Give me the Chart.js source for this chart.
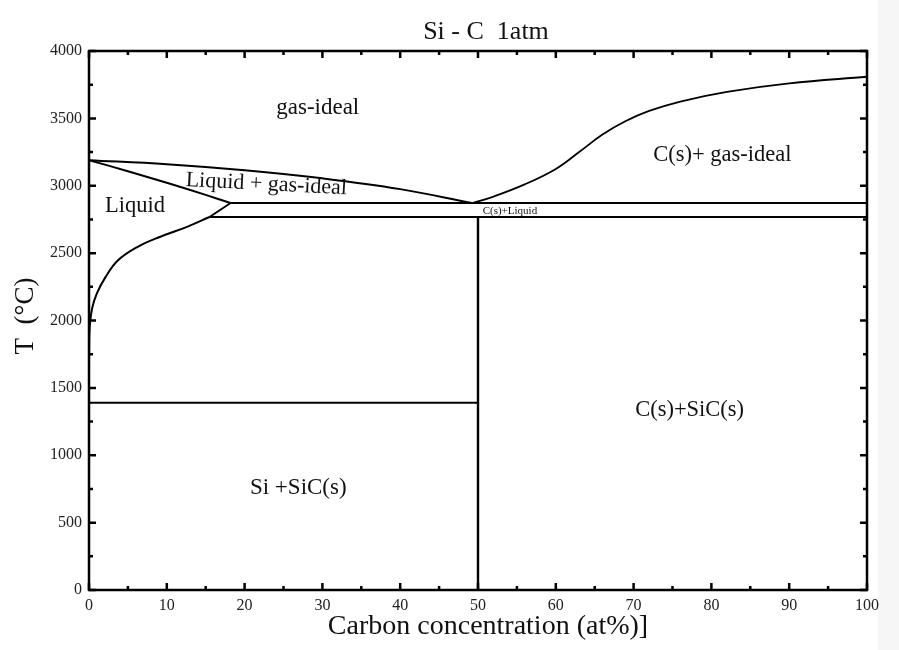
<!DOCTYPE html>
<html>
<head>
<meta charset="utf-8">
<script src="https://cdn.jsdelivr.net/npm/chart.js@4.4.1/dist/chart.umd.min.js"></script>
<style>
  html, body { margin: 0; padding: 0; background: #ffffff; }
  #wrap { width: 899px; height: 650px; position: relative; }
</style>
</head>
<body>
<div id="wrap"><canvas id="c" width="899" height="650"></canvas></div>
<script>
// Si - C phase diagram at 1 atm: phase boundaries (carbon at%, temperature °C)
const liquidGasX = [0, 10, 20, 30, 40, 49.2];
const liquidGasT = [3190, 3160, 3115, 3055, 2975, 2872];

const liquidUpperX = [0, 5, 10, 15, 18.2];
const liquidUpperT = [3190, 3108, 3022, 2932, 2872];

const liquidusX = [0, 0.02, 0.1, 0.4, 1.0, 2.1, 3.7, 6.2, 9.1, 12.6, 15.5];
const liquidusT = [1620, 1800, 1960, 2090, 2200, 2320, 2445, 2545, 2620, 2695, 2768];

const connectorX = [15.5, 18.2];
const connectorT = [2768, 2872];

const carbonGasX = [49.2, 52, 56, 60, 63, 66, 69, 72, 76, 82, 90, 100];
const carbonGasT = [2870, 2920, 3010, 3125, 3250, 3380, 3480, 3555, 3625, 3697, 3760, 3809];

const upperTieX = [18.2, 100];
const upperTieT = [2872, 2872];

const lowerTieX = [15.5, 100];
const lowerTieT = [2768, 2768];

const siMeltX = [0, 50];
const siMeltT = [1390, 1390];

const sicX = [50, 50];
const sicT = [0, 2768];

const xTicks = [0, 10, 20, 30, 40, 50, 60, 70, 80, 90, 100];
const yTicks = [0, 500, 1000, 1500, 2000, 2500, 3000, 3500, 4000];

// Phase region labels: text with its anchor in data coordinates
const regionLabels = [
  { text: 'gas-ideal', x: 29.4, y: 3576, size: 23, rot: 0 },
  { text: 'Liquid + gas-ideal', x: 22.8, y: 3010, size: 22, rot: 3 },
  { text: 'Liquid', x: 5.9, y: 2849, size: 22.5, rot: 0 },
  { text: 'C(s)+Liquid', x: 54.1, y: 2815, size: 11, rot: 0 },
  { text: 'C(s)+ gas-ideal', x: 81.4, y: 3228, size: 22.5, rot: 0 },
  { text: 'C(s)+SiC(s)', x: 77.2, y: 1336, size: 22.5, rot: 0 },
  { text: 'Si +SiC(s)', x: 26.9, y: 757, size: 23, rot: 0 }
];

const SERIF = '"Liberation Serif", "DejaVu Serif", serif';

function pts(xs, ts) { return xs.map((x, i) => ({ x: x, y: ts[i] })); }

function line(xs, ts, curved, width) {
  return {
    data: pts(xs, ts),
    showLine: true,
    borderColor: '#000',
    borderWidth: width || 2,
    pointRadius: 0,
    pointHoverRadius: 0,
    fill: false,
    tension: curved ? 0.4 : 0
  };
}

const datasets = [
  line(liquidGasX, liquidGasT, true),
  line(liquidUpperX, liquidUpperT, true),
  line(liquidusX, liquidusT, true),
  line(connectorX, connectorT, false),
  line(carbonGasX, carbonGasT, true, 1.8),
  line(upperTieX, upperTieT, false),
  line(lowerTieX, lowerTieT, false),
  line(siMeltX, siMeltT, false),
  line(sicX, sicT, false, 2.4)
];

// Frame, inward ticks, titles and region labels
const framePlugin = {
  id: 'frame',
  beforeDraw(chart) {
    const ctx = chart.ctx;
    ctx.save();
    ctx.fillStyle = '#f6f6f6';
    ctx.fillRect(878, 0, 21, 650);
    ctx.restore();
  },
  afterDraw(chart) {
    const ctx = chart.ctx;
    const a = chart.chartArea;
    const xs = chart.scales.x, ys = chart.scales.y;
    ctx.save();
    ctx.strokeStyle = '#000';
    ctx.lineWidth = 2.5;
    ctx.strokeRect(a.left, a.top, a.right - a.left, a.bottom - a.top);

    ctx.beginPath();
    for (let v = 0; v <= 100; v += 5) {
      const px = xs.getPixelForValue(v);
      const len = v % 10 === 0 ? 7 : 4;
      ctx.moveTo(px, a.bottom); ctx.lineTo(px, a.bottom - len);
      ctx.moveTo(px, a.top); ctx.lineTo(px, a.top + len);
    }
    for (let v = 0; v <= 4000; v += 250) {
      const py = ys.getPixelForValue(v);
      const len = v % 500 === 0 ? 7 : 4;
      ctx.moveTo(a.left, py); ctx.lineTo(a.left + len, py);
      ctx.moveTo(a.right, py); ctx.lineTo(a.right - len, py);
    }
    ctx.stroke();

    ctx.fillStyle = '#111';
    ctx.textAlign = 'center';
    ctx.textBaseline = 'middle';
    ctx.font = '26px ' + SERIF;
    ctx.fillText('Si - C  1atm', 486, 32);
    ctx.font = '28px ' + SERIF;
    ctx.fillText('Carbon concentration (at%)]', 488, 627);
    ctx.save();
    ctx.translate(26, 316);
    ctx.rotate(-Math.PI / 2);
    ctx.font = '27px ' + SERIF;
    ctx.fillText('T  (\u00B0C)', 0, 0);
    ctx.restore();

    regionLabels.forEach(l => {
      ctx.save();
      ctx.translate(xs.getPixelForValue(l.x), ys.getPixelForValue(l.y));
      ctx.rotate(l.rot * Math.PI / 180);
      ctx.font = l.size + 'px ' + SERIF;
      ctx.fillText(l.text, 0, 0);
      ctx.restore();
    });
    ctx.restore();
  }
};

new Chart(document.getElementById('c'), {
  type: 'scatter',
  data: { datasets: datasets },
  plugins: [framePlugin],
  options: {
    responsive: false,
    animation: false,
    events: [],
    layout: { padding: { left: 0, right: 32, top: 51, bottom: 0 } },
    plugins: { legend: { display: false }, tooltip: { enabled: false }, title: { display: false } },
    scales: {
      x: {
        type: 'linear', min: 0, max: 100,
        afterBuildTicks: s => { s.ticks = xTicks.map(v => ({ value: v })); },
        afterFit: s => { s.height = 60; },
        grid: { display: false, drawTicks: false },
        border: { display: false },
        ticks: { padding: 6, color: '#222', font: { family: SERIF, size: 16 }, maxRotation: 0,
                 callback: v => String(v) }
      },
      y: {
        type: 'linear', min: 0, max: 4000,
        afterBuildTicks: s => { s.ticks = yTicks.map(v => ({ value: v })); },
        afterFit: s => { s.width = 89; },
        grid: { display: false, drawTicks: false },
        border: { display: false },
        ticks: { padding: 7, color: '#222', font: { family: SERIF, size: 16 },
                 callback: v => String(v) }
      }
    }
  }
});
</script>
</body>
</html>
